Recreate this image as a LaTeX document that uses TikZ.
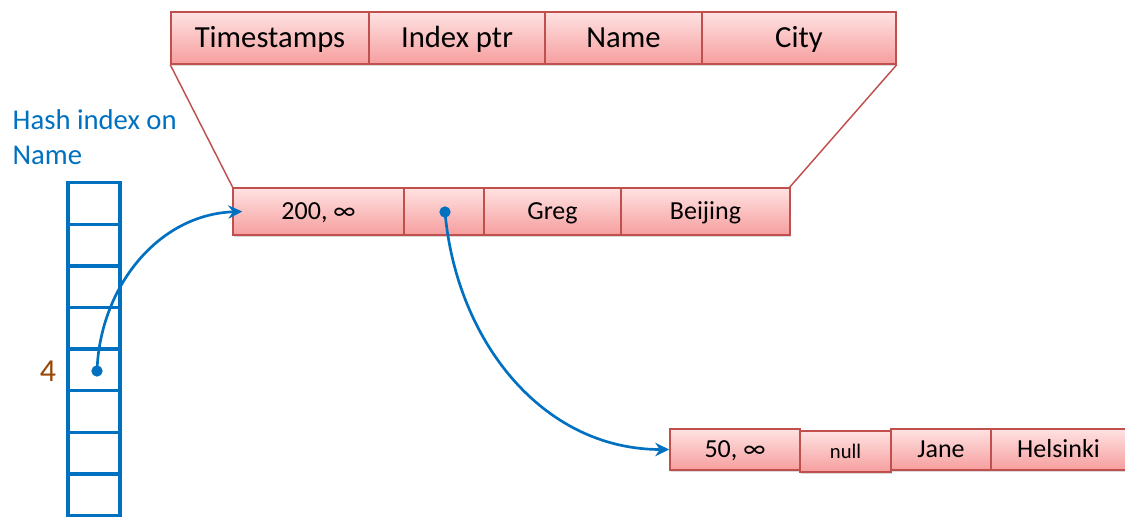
\documentclass[tikz,border=0pt]{standalone}
\usepackage{fontspec}
\setmainfont{Carlito}
\usetikzlibrary{arrows.meta,shadows}
\definecolor{boxred}{RGB}{192,80,77}
\definecolor{boxtop}{RGB}{255,226,226}
\definecolor{boxbot}{RGB}{246,158,158}
\definecolor{idxblue}{RGB}{0,112,192}
\definecolor{numbrown}{RGB}{152,72,6}
\tikzset{
  cell/.style 2 args={draw=boxred,line width=1.1pt,top color=boxtop,bottom color=boxbot,
    minimum width=#1*0.75pt,minimum height=#2*0.75pt,inner sep=0pt,
    drop shadow={opacity=0.3,shadow xshift=1pt,shadow yshift=-1.5pt}},
  slot/.style={draw=idxblue,line width=2.6pt,minimum width=39pt,minimum height=31.2pt,inner sep=0pt},
  dot/.style={circle,fill=idxblue,inner sep=0pt,minimum size=8.5pt},
  ptr/.style={draw=idxblue,line width=2pt,-{Stealth[length=10.5pt,width=10pt]}},
  edge/.style={draw=boxred,line width=1.1pt}
}
\begin{document}
\begin{tikzpicture}[x=0.75pt,y=-0.75pt]
  \useasboundingbox (0,0) rectangle (1125,517);

  \begin{scope}[font=\fontsize{23}{27}\selectfont,text height=18pt,text depth=3.2pt]
    \node[cell={198}{52}] (ts) at (270,38) {Timestamps};
    \node[cell={176}{52}] (ip) at (457,38) {Index ptr};
    \node[cell={157}{52}] (nm) at (623.5,38) {Name};
    \node[cell={194}{52}] (ct) at (799,38) {City};
  \end{scope}

  \draw[edge] (ts.south west) -- (233,188);
  \draw[edge] (ct.south east) -- (789,188);

  \begin{scope}[font=\fontsize{19.5}{23}\selectfont,text height=15.5pt,text depth=2.9pt]
    \node[cell={171}{47}] (t1) at (318.5,211.5) {200, ∞};
    \node[cell={80}{47}] (p1) at (444,211.5) {};
    \node[cell={137}{47}] (n1) at (552.5,211.5) {Greg};
    \node[cell={169}{47}] (c1) at (705.5,211.5) {Beijing};

    \node[cell={130}{41}] (t2) at (735,449.5) {50, ∞};
    \node[cell={91}{41},font=\fontsize{15.5}{18}\selectfont,text height=12pt,text depth=2pt] (p2) at (845.5,451.5) {null};
    \node[cell={100}{41}] (n2) at (941,449.5) {Jane};
    \node[cell={135}{41}] (c2) at (1058.5,449.5) {Helsinki};
  \end{scope}

  % hash index
  \node[text=idxblue,font=\fontsize{21.5}{26}\selectfont,align=left,anchor=west] (hl) at (8,137) {Hash index on\\Name};
  \foreach \i in {0,...,7} {\node[slot] (h\i) at (94,{203.5+41.6*\i}) {};}
  \node[text=numbrown,font=\fontsize{24}{28}\selectfont] (k) at (48,371) {4};

  \node[dot] (d0) at (97,371) {};
  \node[dot] (d1) at (445,212) {};
  \draw[ptr] (d0.center) to[out=88,in=182] ([xshift=7.5pt]t1.west);
  \draw[ptr] (d1.center) to[out=-85,in=180] (t2.west);
\end{tikzpicture}
\end{document}
